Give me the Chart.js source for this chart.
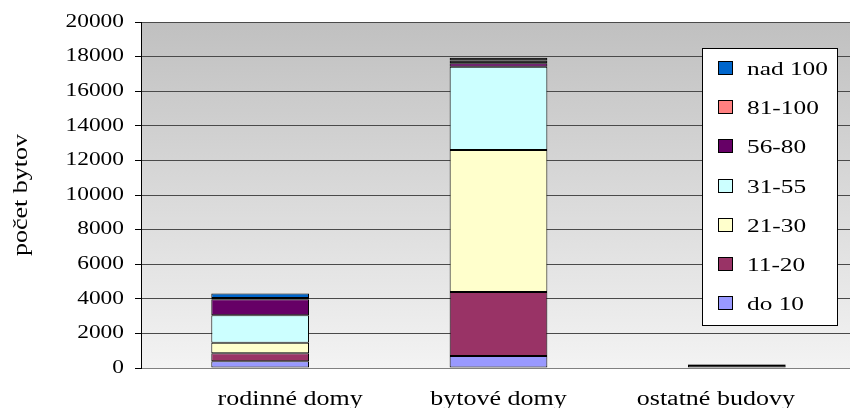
<!DOCTYPE html>
<html>
<head>
<meta charset="utf-8">
<script src="https://cdn.jsdelivr.net/npm/chart.js@4.4.1/dist/chart.umd.min.js"></script>
<style>
  html, body { margin: 0; padding: 0; background: #fff; overflow: hidden; width: 850px; height: 408px; }
  canvas { display: block; }
</style>
</head>
<body>
<canvas id="c" width="856" height="408"></canvas>
<script>
// ---- data ----
const categories = ['rodinné domy', 'bytové domy', 'ostatné budovy'];
const seriesLabels = ['do 10', '11-20', '21-30', '31-55', '56-80', '81-100', 'nad 100'];
const valDo10   = [390, 690, 180];
const val11_20  = [460, 3700, 15];
const val21_30  = [610, 8210, 15];
const val31_55  = [1590, 4820, 10];
const val56_80  = [920, 200, 5];
const val81_100 = [80, 150, 3];
const valNad100 = [250, 160, 2];
const yMin = 0, yMax = 20000, yStep = 2000;
const yTitle = 'počet bytov';

// ---- style ----
const seriesColors = ['#9999FF', '#993366', '#FFFFCC', '#CCFFFF', '#660066', '#FF8080', '#0066CC'];
const FONT = "'Liberation Serif', 'Times New Roman', serif";
const SX = 1.3; // horizontal glyph stretch of the reference's text
const labelShift = [30, 0, -21];

const canvas = document.getElementById('c');
const ctx = canvas.getContext('2d');
const nativeFill = ctx.fillText.bind(ctx);
const nativeMeasure = ctx.measureText.bind(ctx);
ctx.fillText = function (text, x, y, maxWidth) {
  ctx.save();
  ctx.translate(x, y);
  ctx.scale(SX, 1);
  if (maxWidth !== undefined && maxWidth !== null) nativeFill(text, 0, 0, maxWidth / SX);
  else nativeFill(text, 0, 0);
  ctx.restore();
};
ctx.measureText = function (text) {
  const m = nativeMeasure(text);
  return {
    width: m.width * SX,
    actualBoundingBoxLeft: m.actualBoundingBoxLeft * SX,
    actualBoundingBoxRight: m.actualBoundingBoxRight * SX,
    actualBoundingBoxAscent: m.actualBoundingBoxAscent,
    actualBoundingBoxDescent: m.actualBoundingBoxDescent,
    fontBoundingBoxAscent: m.fontBoundingBoxAscent,
    fontBoundingBoxDescent: m.fontBoundingBoxDescent
  };
};

// segments thinner than a few px look solid black (border dominated), as in the reference
function segColor(color) {
  return (c) => {
    const ys = c.chart.scales && c.chart.scales.y;
    if (ys && typeof c.raw === 'number') {
      const h = Math.abs(ys.getPixelForValue(c.raw) - ys.getPixelForValue(0));
      if (h < 3.2) return '#000';
    }
    return color;
  };
}

const seriesValues = [valDo10, val11_20, val21_30, val31_55, val56_80, val81_100, valNad100];
const datasets = seriesLabels.map((lab, i) => ({
  label: lab,
  data: seriesValues[i],
  legendColor: seriesColors[i],
  backgroundColor: segColor(seriesColors[i]),
  borderColor: '#000',
  borderWidth: 1,
  borderSkipped: false,
  categoryPercentage: 1,
  barPercentage: 0.41
}));

const bgPlugin = {
  id: 'plotBg',
  beforeDraw(chart) {
    const a = chart.chartArea;
    const c = chart.ctx;
    c.save();
    const g = c.createLinearGradient(0, a.top, 0, a.bottom);
    g.addColorStop(0, '#c0c0c0');
    g.addColorStop(1, '#f3f3f3');
    c.fillStyle = g;
    c.fillRect(a.left, a.top, a.right - a.left, a.bottom - a.top);
    c.restore();
    const xs = chart.scales.x;
    if (xs && xs.getLabelItems) {
      const items = xs.getLabelItems();
      items.forEach((it, i) => {
        if (it._shifted) return;
        const t = (it.options && it.options.translation) || it.translation;
        if (t) t[0] += (labelShift[i] || 0);
        it._shifted = true;
      });
    }
  }
};

const legendPlugin = {
  id: 'boxLegend',
  afterDraw(chart) {
    const c = chart.ctx;
    c.save();
    c.fillStyle = '#fff';
    c.fillRect(702, 48, 135, 277);
    c.strokeStyle = '#000';
    c.lineWidth = 1;
    c.strokeRect(702.5, 48.5, 135, 277);
    const ds = chart.data.datasets;
    const n = ds.length;
    c.font = '19.5px ' + FONT;
    c.textAlign = 'left';
    c.textBaseline = 'alphabetic';
    for (let i = 0; i < n; i++) {
      const d = ds[n - 1 - i];
      const cy = Math.round(68 + i * 39.2);
      c.fillStyle = d.legendColor;
      c.fillRect(718.5, cy - 6.5, 14, 13);
      c.strokeRect(718.5, cy - 6.5, 14, 13);
      c.fillStyle = '#000';
      c.fillText(d.label, 747, cy + 7);
    }
    c.restore();
  }
};

new Chart(canvas, {
  type: 'bar',
  data: { labels: categories, datasets: datasets },
  options: {
    responsive: false,
    devicePixelRatio: 1,
    animation: false,
    layout: { padding: { top: 22, left: 0, right: 0, bottom: 0 } },
    plugins: { legend: { display: false }, tooltip: { enabled: false } },
    scales: {
      x: {
        stacked: true,
        grid: { display: false, drawTicks: false },
        border: { display: true, color: '#808080', width: 1 },
        ticks: { color: '#000', font: { family: FONT, size: 20 }, padding: 20, maxRotation: 0, autoSkip: false },
        afterFit(s) { s.height = 40; }
      },
      y: {
        stacked: true,
        min: yMin, max: yMax,
        grid: { color: '#4a4a4a', lineWidth: 1, tickLength: 6, tickColor: '#000', drawTicks: true },
        border: { display: true, color: '#000', width: 1 },
        ticks: { stepSize: yStep, color: '#000', font: { family: FONT, size: 18 }, padding: 11, callback: v => String(v) },
        title: { display: true, text: yTitle, color: '#000', font: { family: FONT, size: 20 }, padding: { top: 10, bottom: 0 } },
        afterFit(s) { s.width = 141; }
      }
    }
  },
  plugins: [bgPlugin, legendPlugin]
});
</script>
</body>
</html>
